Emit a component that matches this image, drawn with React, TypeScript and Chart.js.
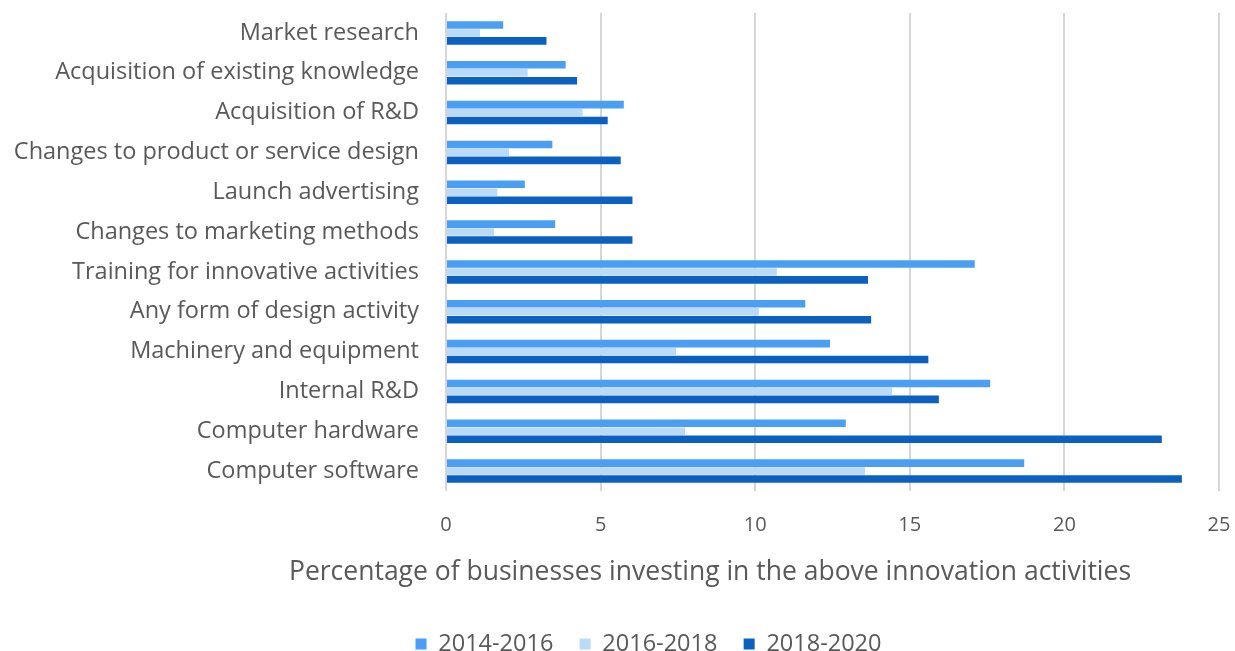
import React, { useEffect, useRef } from "react";
import { Chart, registerables } from "chart.js";
Chart.register(...registerables);

const categories = [
  "Market research",
  "Acquisition of existing knowledge",
  "Acquisition of R&D",
  "Changes to product or service design",
  "Launch advertising",
  "Changes to marketing methods",
  "Training for innovative activities",
  "Any form of design activity",
  "Machinery and equipment",
  "Internal R&D",
  "Computer hardware",
  "Computer software",
];
const seriesNames = ["2014-2016", "2016-2018", "2018-2020"];
const values2014 = [1.85, 3.87, 5.75, 3.44, 2.55, 3.53, 17.1, 11.62, 12.42, 17.6, 12.93, 18.7];
const values2016 = [1.1, 2.64, 4.42, 2.04, 1.66, 1.55, 10.7, 10.12, 7.44, 14.43, 7.73, 13.55];
const values2018 = [3.25, 4.24, 5.23, 5.65, 6.03, 6.03, 13.65, 13.75, 15.6, 15.94, 23.15, 23.8];
const seriesColors = ["#4A9FF5", "#BBDAF8", "#0B60C0"];
const xTitle = "Percentage of businesses investing in the above innovation activities";

const FONT = "'Open Sans', sans-serif";
const TEXT = "#595959";

const LEGEND_SHIFT = 39;

const layoutPlugin = {
  id: "layoutTweaks",
  afterLayout(chart: any) {
    if (chart.legend) {
      chart.legend.left += LEGEND_SHIFT;
      chart.legend.right += LEGEND_SHIFT;
    }
  },
  afterDraw(chart: any) {
    const ctx = chart.ctx;
    ctx.save();
    ctx.font = `26.5px ${FONT}`;
    ctx.fillStyle = TEXT;
    ctx.textAlign = "center";
    ctx.textBaseline = "middle";
    ctx.fillText(xTitle, 710, 572);
    ctx.restore();
  },
};

export default function App() {
  const ref = useRef<HTMLCanvasElement>(null);
  useEffect(() => {
    if (!ref.current) return;
    const chart = new Chart(ref.current, {
      type: "bar",
      data: {
        labels: categories,
        datasets: [values2014, values2016, values2018].map((d, i) => ({
          label: seriesNames[i],
          data: d,
          backgroundColor: seriesColors[i],
          borderWidth: 0,
          categoryPercentage: 0.6,
          barPercentage: 0.95,
        })),
      },
      plugins: [layoutPlugin],
      options: {
        indexAxis: "y",
        animation: false,
        responsive: false,
        maintainAspectRatio: false,
        layout: { padding: { top: 13, right: 16, left: 0, bottom: -14.75 } },
        scales: {
          x: {
            min: 0,
            max: 25,
            ticks: { stepSize: 5, color: TEXT, font: { family: FONT, size: 20 }, padding: 22 },
            grid: { color: "#D6D6D6", lineWidth: 2, drawTicks: false },
            border: { display: false },
            afterFit: (s: any) => {
              s.height = 115;
              s.paddingLeft = 0;
              s.paddingRight = 0;
            },
          },
          y: {
            ticks: { color: TEXT, font: { family: FONT, size: 23.5 }, padding: 27 },
            grid: { display: false, drawTicks: false },
            border: { display: false },
            afterFit: (s: any) => {
              s.width = 446;
              s.paddingTop = 0;
              s.paddingBottom = 0;
            },
          },
        },
        plugins: {
          legend: {
            position: "bottom",
            labels: {
              color: TEXT,
              font: { family: FONT, size: 23.5 },
              boxWidth: 11,
              boxHeight: 11,
              padding: 26.25,
            },
          },
          tooltip: { enabled: false },
        },
      },
    });
    return () => chart.destroy();
  }, []);
  return (
    <div style={{ position: "fixed", left: 0, top: 0, width: 1235, height: 651, background: "#fff" }}>
      <canvas ref={ref} width={1235} height={651} style={{ width: 1235, height: 651 }} />
    </div>
  );
}
